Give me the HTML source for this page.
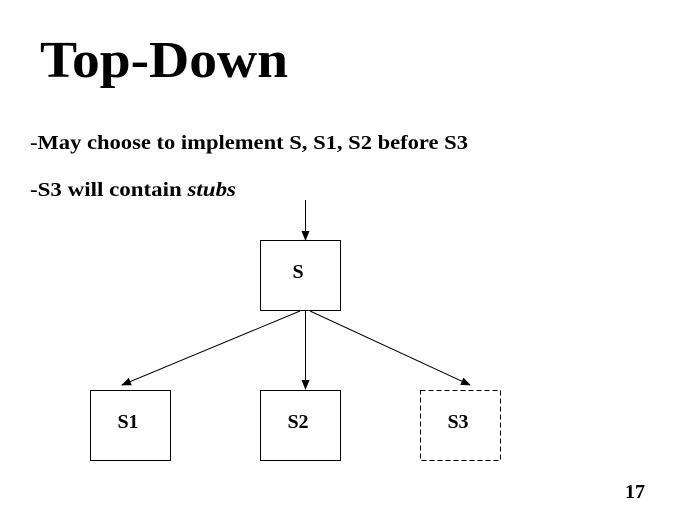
<!DOCTYPE html>
<html><head><style>body{margin:0;background:#fff}svg{display:block}</style></head><body>
<svg width="680" height="510" xmlns="http://www.w3.org/2000/svg" font-family="Liberation Serif, serif" font-weight="bold">
<defs><marker id="a" markerWidth="10" markerHeight="8" refX="9" refY="4" orient="auto" markerUnits="userSpaceOnUse"><path d="M0,0L10,4L0,8z" fill="#000"/></marker></defs>
<text x="40" y="77" font-size="52" textLength="248" lengthAdjust="spacingAndGlyphs">Top-Down</text>
<text x="30" y="149" font-size="20" textLength="438" lengthAdjust="spacingAndGlyphs">-May choose to implement S, S1, S2 before S3</text>
<text x="30" y="196" font-size="20" textLength="206" lengthAdjust="spacingAndGlyphs">-S3 will contain <tspan font-style="italic">stubs</tspan></text>
<g stroke="#000" fill="none" stroke-width="1">
<rect x="260.5" y="240.5" width="80" height="70"/>
<rect x="90.5" y="390.5" width="80" height="70"/>
<rect x="260.5" y="390.5" width="80" height="70"/>
<rect x="420.5" y="390.5" width="80" height="70" stroke-dasharray="5,3"/>
<line x1="305.5" y1="200" x2="305.5" y2="240" marker-end="url(#a)"/>
<line x1="300" y1="311" x2="122" y2="385" marker-end="url(#a)"/>
<line x1="305.5" y1="311" x2="305.5" y2="389" marker-end="url(#a)"/>
<line x1="310" y1="311" x2="470" y2="385" marker-end="url(#a)"/>
</g>
<g font-size="20" text-anchor="middle">
<text x="298" y="278">S</text>
<text x="128" y="428">S1</text>
<text x="298" y="428">S2</text>
<text x="458" y="428">S3</text>
<text x="635" y="498">17</text>
</g>
</svg>
</body></html>
